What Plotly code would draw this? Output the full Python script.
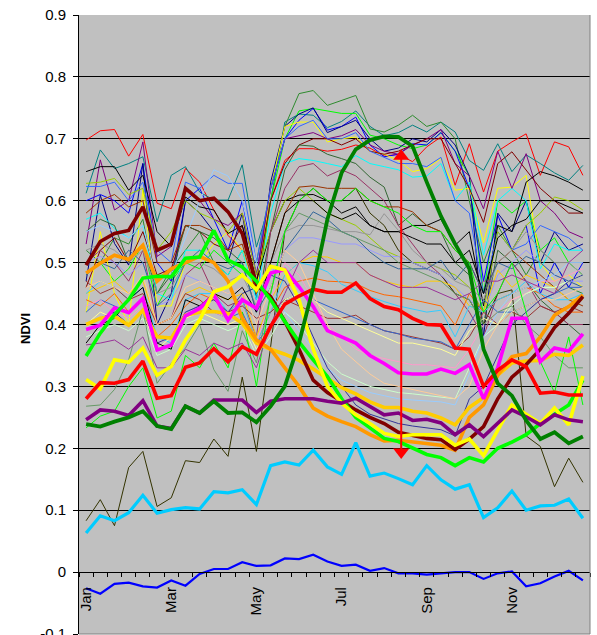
import plotly.graph_objects as go

# ---------------- data ----------------
dekads = list(range(36))
month_ticks = [0, 6, 12, 18, 24, 30]
month_labels = ["Jan", "Mar", "May", "Jul", "Sep", "Nov"]
y_ticks = [-0.1, 0, 0.1, 0.2, 0.3, 0.4, 0.5, 0.6, 0.7, 0.8, 0.9]
y_tick_labels = ["-0.1", "0", "0.1", "0.2", "0.3", "0.4", "0.5", "0.6", "0.7", "0.8", "0.9"]

# thin series
red_thin = [0.698,0.713,0.715,0.672,0.707,0.596, 0.587,0.652,0.630,0.585,0.544,0.520,
            0.450,0.600,0.665,0.684,0.684,0.680, 0.683,0.690,0.685,0.672,0.675,0.663,
            0.687,0.703,0.625,0.692,0.614,0.680, 0.695,0.708,0.641,0.695,0.687,0.641]
teal_thin = [0.612,0.682,0.652,0.660,0.671,0.566, 0.641,0.655,0.614,0.601,0.601,0.658,
             0.525,0.600,0.727,0.740,0.738,0.718, 0.728,0.745,0.720,0.705,0.710,0.722,
             0.711,0.727,0.711,0.665,0.649,0.692, 0.647,0.674,0.660,0.645,0.633,0.657]
forest_thin = [0.520,0.500,0.540,0.530,0.570,0.450, 0.490,0.520,0.550,0.500,0.480,0.520,
               0.500,0.620,0.720,0.773,0.778,0.754, 0.762,0.770,0.716,0.711,0.722,0.738,
               0.720,0.727,0.700,0.600,0.500,0.560, 0.520,0.480,0.520,0.500,0.460,0.450]
lime_thin_a = [0.480,0.500,0.470,0.490,0.530,0.430, 0.470,0.500,0.490,0.520,0.500,0.480,
               0.450,0.600,0.700,0.745,0.749,0.745, 0.741,0.741,0.706,0.700,0.690,0.684,
               0.690,0.710,0.680,0.640,0.450,0.600, 0.580,0.600,0.520,0.540,0.500,0.480]
blue_thin = [0.600,0.610,0.600,0.580,0.660,0.500, 0.470,0.600,0.620,0.570,0.520,0.600,
             0.480,0.620,0.700,0.730,0.749,0.714, 0.720,0.735,0.690,0.671,0.675,0.692,
             0.690,0.710,0.680,0.620,0.470,0.577, 0.520,0.560,0.450,0.500,0.460,0.500]
navy_thin = [0.470,0.609,0.531,0.496,0.660,0.400, 0.450,0.600,0.580,0.550,0.500,0.580,
             0.440,0.630,0.720,0.740,0.750,0.710, 0.720,0.730,0.700,0.680,0.685,0.700,
             0.695,0.715,0.690,0.640,0.380,0.580, 0.550,0.600,0.500,0.550,0.520,0.530]
yellow_thin = [0.420,0.550,0.450,0.400,0.617,0.430, 0.430,0.500,0.500,0.530,0.550,0.520,
               0.450,0.620,0.720,0.727,0.727,0.695, 0.700,0.703,0.680,0.675,0.665,0.647,
               0.652,0.668,0.617,0.620,0.532,0.620, 0.622,0.641,0.500,0.470,0.480,0.460]
cyan_thin = [0.570,0.580,0.555,0.540,0.560,0.450, 0.440,0.520,0.520,0.500,0.480,0.520,
             0.440,0.580,0.660,0.668,0.665,0.660, 0.655,0.673,0.660,0.655,0.650,0.638,
             0.640,0.660,0.601,0.630,0.512,0.600, 0.620,0.600,0.490,0.530,0.520,0.520]
purple_thin = [0.530,0.666,0.585,0.600,0.695,0.510, 0.526,0.620,0.600,0.570,0.560,0.580,
               0.480,0.620,0.700,0.705,0.710,0.700, 0.705,0.715,0.690,0.680,0.675,0.690,
               0.700,0.715,0.660,0.640,0.587,0.680, 0.620,0.676,0.600,0.580,0.550,0.540]
maroon_thin = [0.460,0.520,0.540,0.500,0.550,0.480, 0.490,0.560,0.550,0.530,0.520,0.560,
               0.470,0.600,0.660,0.690,0.700,0.700, 0.690,0.700,0.680,0.675,0.680,0.690,
               0.700,0.700,0.660,0.620,0.565,0.660, 0.679,0.650,0.620,0.600,0.580,0.580]
black_thin = [0.647,0.655,0.655,0.617,0.641,0.550, 0.526,0.606,0.590,0.585,0.547,0.560,
              0.470,0.550,0.600,0.609,0.610,0.600, 0.580,0.590,0.560,0.550,0.550,0.560,
              0.560,0.570,0.528,0.550,0.430,0.560, 0.550,0.630,0.647,0.640,0.630,0.617]
royal_thin = [0.623,0.623,0.630,0.600,0.630,0.520, 0.500,0.630,0.620,0.641,0.628,0.628,
              0.500,0.620,0.700,0.720,0.730,0.700, 0.700,0.710,0.680,0.670,0.660,0.660,
              0.655,0.670,0.600,0.580,0.450,0.550, 0.520,0.530,0.560,0.550,0.540,0.520]
ygreen_thin = [0.628,0.630,0.636,0.610,0.620,0.520, 0.550,0.600,0.580,0.570,0.550,0.580,
               0.480,0.550,0.600,0.620,0.600,0.580, 0.570,0.560,0.540,0.520,0.510,0.500,
               0.500,0.490,0.480,0.460,0.420,0.550, 0.520,0.560,0.580,0.606,0.600,0.585]
dkgreen_thin = [0.550,0.570,0.560,0.500,0.530,0.450, 0.480,0.560,0.550,0.540,0.520,0.500,
                0.420,0.550,0.650,0.690,0.688,0.675, 0.668,0.660,0.638,0.622,0.560,0.579,
                0.560,0.550,0.500,0.480,0.400,0.520, 0.500,0.470,0.440,0.420,0.400,0.380]
plum_thin = [0.500,0.520,0.500,0.470,0.520,0.400, 0.410,0.480,0.500,0.450,0.430,0.440,
             0.380,0.550,0.620,0.655,0.660,0.640, 0.650,0.640,0.620,0.600,0.560,0.530,
             0.500,0.480,0.450,0.420,0.380,0.450, 0.500,0.470,0.430,0.420,0.400,0.400]
olive_thin = [0.083,0.117,0.075,0.169,0.195,0.106, 0.120,0.180,0.177,0.215,0.187,0.315,
              0.195,0.364,0.550,0.600,0.620,0.600, 0.600,0.620,0.580,0.560,0.520,0.500,
              0.490,0.480,0.450,0.440,0.400,0.450, 0.456,0.220,0.203,0.138,0.184,0.145]
brown_thin = [0.580,0.600,0.610,0.590,0.600,0.500, 0.500,0.560,0.560,0.550,0.520,0.530,
              0.450,0.500,0.580,0.622,0.624,0.620, 0.620,0.620,0.600,0.590,0.590,0.582,
              0.560,0.550,0.520,0.500,0.450,0.500, 0.520,0.500,0.480,0.460,0.440,0.430]
gray_thin = [0.520,0.530,0.520,0.500,0.520,0.450, 0.460,0.500,0.500,0.490,0.470,0.480,
             0.430,0.500,0.550,0.560,0.560,0.555, 0.550,0.550,0.545,0.579,0.552,0.520,
             0.500,0.490,0.470,0.460,0.440,0.500, 0.520,0.550,0.520,0.500,0.500,0.480]
lavender_thin = [0.500,0.510,0.500,0.480,0.500,0.430, 0.440,0.480,0.470,0.460,0.450,0.460,
                 0.420,0.480,0.520,0.540,0.540,0.535, 0.530,0.530,0.520,0.510,0.510,0.500,
                 0.490,0.480,0.460,0.440,0.420,0.480, 0.500,0.520,0.500,0.480,0.470,0.470]
slate_thin = [0.480,0.500,0.490,0.520,0.500,0.430, 0.450,0.500,0.520,0.500,0.490,0.500,
              0.420,0.460,0.520,0.550,0.582,0.570, 0.550,0.540,0.517,0.500,0.490,0.490,
              0.490,0.504,0.472,0.500,0.450,0.500, 0.490,0.510,0.500,0.480,0.470,0.460]
gold_thin = [0.450,0.460,0.470,0.450,0.470,0.400, 0.410,0.450,0.460,0.450,0.440,0.450,
             0.380,0.440,0.480,0.500,0.510,0.509, 0.500,0.500,0.480,0.470,0.464,0.460,
             0.470,0.470,0.460,0.430,0.420,0.488, 0.460,0.480,0.470,0.460,0.440,0.440]
orange_thin = [0.440,0.430,0.450,0.420,0.440,0.380, 0.400,0.430,0.450,0.440,0.420,0.440,
               0.370,0.420,0.460,0.470,0.475,0.470, 0.469,0.466,0.455,0.448,0.445,0.440,
               0.434,0.430,0.399,0.450,0.420,0.440, 0.450,0.460,0.450,0.430,0.420,0.420]
sky_thin = [0.450,0.470,0.460,0.440,0.460,0.380, 0.370,0.440,0.450,0.450,0.420,0.440,
            0.370,0.420,0.480,0.500,0.495,0.485, 0.465,0.455,0.445,0.437,0.430,0.425,
            0.420,0.423,0.380,0.430,0.420,0.440, 0.450,0.470,0.450,0.440,0.440,0.450]
brownred_thin = [0.470,0.450,0.460,0.440,0.450,0.400, 0.410,0.450,0.440,0.420,0.420,0.430,
                 0.410,0.420,0.440,0.430,0.420,0.410, 0.410,0.415,0.400,0.390,0.385,0.380,
                 0.375,0.370,0.360,0.380,0.420,0.400, 0.420,0.410,0.430,0.420,0.430,0.420]
blue2_thin = [0.420,0.440,0.430,0.420,0.440,0.380, 0.380,0.420,0.430,0.420,0.410,0.420,
              0.370,0.400,0.440,0.450,0.440,0.430, 0.420,0.410,0.400,0.390,0.385,0.378,
              0.375,0.372,0.360,0.400,0.440,0.420, 0.420,0.430,0.440,0.450,0.460,0.460]
paleyellow_thin = [0.400,0.420,0.410,0.400,0.420,0.360, 0.380,0.410,0.420,0.410,0.400,0.410,
                   0.360,0.400,0.440,0.450,0.440,0.420, 0.410,0.400,0.390,0.380,0.370,0.370,
                   0.365,0.360,0.350,0.390,0.410,0.400, 0.440,0.450,0.460,0.460,0.470,0.480]
pink_thin = [0.430,0.440,0.420,0.410,0.430,0.370, 0.380,0.420,0.430,0.420,0.410,0.410,
             0.370,0.440,0.500,0.480,0.440,0.400, 0.380,0.360,0.350,0.345,0.340,0.335,
             0.335,0.333,0.330,0.360,0.400,0.420, 0.440,0.450,0.470,0.470,0.480,0.490]
palegreen_thin = [0.380,0.390,0.400,0.390,0.410,0.350, 0.360,0.400,0.410,0.400,0.390,0.400,
                  0.350,0.380,0.420,0.400,0.370,0.340, 0.320,0.310,0.300,0.295,0.290,0.288,
                  0.285,0.283,0.280,0.330,0.380,0.400, 0.430,0.450,0.460,0.460,0.470,0.480]
paleblue_thin = [0.550,0.560,0.550,0.540,0.560,0.470, 0.480,0.540,0.600,0.650,0.640,0.600,
                 0.500,0.450,0.420,0.390,0.360,0.330, 0.310,0.300,0.290,0.285,0.280,0.278,
                 0.276,0.275,0.270,0.320,0.380,0.420, 0.450,0.460,0.470,0.480,0.500,0.500]
tan_thin = [0.460,0.470,0.460,0.450,0.480,0.400, 0.410,0.460,0.470,0.460,0.450,0.460,
            0.400,0.460,0.520,0.500,0.450,0.400, 0.360,0.340,0.320,0.305,0.300,0.295,
            0.290,0.285,0.280,0.300,0.360,0.400, 0.420,0.430,0.440,0.440,0.450,0.460]
indigo_thin = [0.400,0.410,0.420,0.400,0.420,0.370, 0.380,0.420,0.430,0.440,0.420,0.450,
               0.460,0.480,0.470,0.430,0.380,0.330, 0.300,0.270,0.255,0.248,0.240,0.236,
               0.233,0.230,0.220,0.280,0.300,0.350, 0.400,0.420,0.440,0.450,0.470,0.480]
graygreen_thin = [0.268,0.270,0.295,0.343,0.424,0.305, 0.337,0.362,0.400,0.327,0.292,0.390,
                  0.338,0.450,0.550,0.580,0.570,0.560, 0.550,0.540,0.530,0.520,0.500,0.490,
                  0.480,0.470,0.450,0.440,0.400,0.420, 0.430,0.400,0.380,0.350,0.330,0.330]
lime_thin_b = [0.233,0.252,0.260,0.300,0.330,0.249, 0.260,0.350,0.330,0.370,0.330,0.420,
               0.300,0.450,0.550,0.600,0.620,0.600, 0.600,0.620,0.600,0.590,0.580,0.560,
               0.550,0.550,0.520,0.500,0.420,0.450, 0.500,0.420,0.340,0.290,0.380,0.270]
purple_thin_b = [0.367,0.370,0.375,0.360,0.380,0.330, 0.330,0.360,0.350,0.370,0.360,0.370,
                 0.330,0.400,0.450,0.500,0.520,0.500, 0.500,0.500,0.480,0.470,0.460,0.460,
                 0.460,0.450,0.440,0.450,0.470,0.470, 0.480,0.470,0.460,0.450,0.500,0.520]
black_thin_b = [0.370,0.400,0.410,0.440,0.460,0.370, 0.360,0.440,0.430,0.450,0.440,0.460,
                0.420,0.500,0.580,0.600,0.600,0.580, 0.570,0.580,0.560,0.550,0.550,0.540,
                0.530,0.530,0.500,0.520,0.450,0.540, 0.560,0.570,0.600,0.600,0.590,0.580]

# thick series
maroon_thick = [0.496,0.534,0.547,0.552,0.590,0.520, 0.530,0.620,0.600,0.604,0.582,0.547,
                0.464,0.445,0.405,0.360,0.310,0.290, 0.276,0.262,0.250,0.240,0.226,0.221,
                0.216,0.214,0.198,0.215,0.235,0.280, 0.315,0.335,0.360,0.395,0.418,0.445]
orange_thick = [0.483,0.499,0.512,0.505,0.528,0.470, 0.490,0.500,0.510,0.500,0.470,0.410,
                0.375,0.360,0.330,0.300,0.265,0.252, 0.243,0.235,0.222,0.212,0.213,0.210,
                0.208,0.205,0.197,0.250,0.270,0.318, 0.348,0.353,0.380,0.415,0.429,0.448]
gold_thick = [0.400,0.410,0.413,0.399,0.423,0.380, 0.378,0.415,0.420,0.421,0.418,0.402,
              0.370,0.360,0.352,0.342,0.328,0.313, 0.298,0.288,0.275,0.266,0.266,0.260,
              0.257,0.249,0.238,0.266,0.282,0.318, 0.338,0.341,0.342,0.352,0.350,0.367]
magenta_thick = [0.392,0.399,0.427,0.419,0.442,0.359, 0.367,0.414,0.426,0.448,0.407,0.440,
                 0.426,0.483,0.489,0.461,0.429,0.390, 0.380,0.370,0.350,0.337,0.322,0.320,
                 0.320,0.328,0.321,0.335,0.280,0.330, 0.410,0.410,0.340,0.362,0.357,0.385]
lime_thick = [0.349,0.386,0.416,0.440,0.475,0.478, 0.477,0.507,0.509,0.552,0.504,0.493,
              0.470,0.440,0.405,0.372,0.343,0.316, 0.280,0.250,0.233,0.216,0.211,0.200,
              0.190,0.185,0.172,0.185,0.178,0.200, 0.210,0.222,0.240,0.255,0.270,0.310]
yellow_thick = [0.311,0.296,0.343,0.339,0.362,0.318, 0.332,0.375,0.407,0.453,0.461,0.480,
                0.456,0.494,0.488,0.440,0.360,0.300, 0.273,0.254,0.240,0.224,0.219,0.222,
                0.222,0.222,0.205,0.215,0.188,0.230, 0.270,0.255,0.240,0.265,0.238,0.317]
red_thick = [0.280,0.306,0.305,0.311,0.341,0.281, 0.285,0.331,0.338,0.361,0.340,0.364,
             0.352,0.397,0.433,0.446,0.457,0.452, 0.452,0.467,0.442,0.429,0.424,0.410,
             0.400,0.399,0.362,0.360,0.300,0.326, 0.343,0.332,0.289,0.291,0.286,0.286]
purple_thick = [0.246,0.262,0.260,0.253,0.277,0.236, 0.232,0.268,0.257,0.278,0.278,0.278,
                0.258,0.276,0.280,0.280,0.280,0.276, 0.273,0.281,0.267,0.254,0.257,0.245,
                0.247,0.241,0.222,0.238,0.219,0.241, 0.262,0.251,0.238,0.254,0.246,0.243]
green_thick = [0.239,0.235,0.243,0.250,0.260,0.236, 0.231,0.268,0.257,0.276,0.257,0.258,
               0.242,0.268,0.300,0.370,0.460,0.570, 0.645,0.683,0.698,0.704,0.703,0.688,
               0.630,0.575,0.530,0.490,0.360,0.305, 0.285,0.245,0.215,0.226,0.208,0.219]
sky_thick = [0.063,0.091,0.083,0.096,0.124,0.095, 0.101,0.104,0.102,0.130,0.128,0.133,
             0.109,0.172,0.178,0.173,0.197,0.170, 0.158,0.209,0.155,0.160,0.151,0.141,
             0.172,0.149,0.134,0.141,0.088,0.104, 0.131,0.100,0.107,0.108,0.118,0.087]
blue_low = [-0.026,-0.035,-0.019,-0.017,-0.023,-0.025, -0.0135,-0.022,-0.003,0.005,0.005,0.016,
            0.010,0.011,0.022,0.021,0.028,0.017, 0.010,0.012,0.002,0.0065,-0.002,-0.002,
            -0.004,-0.002,0.000,0.000,-0.011,-0.002, 0.001,-0.023,-0.018,-0.007,0.002,-0.0135]

# red double arrow (position between dekads, value range)
arrow_x = 22.2
arrow_y = [0.194, 0.672]

# ---------------- styling ----------------
thin_styles = [
    (red_thin, "#FF0000"), (teal_thin, "#008080"), (forest_thin, "#2E8B2E"),
    (lime_thin_a, "#00FF00"), (blue_thin, "#0000FF"), (navy_thin, "#000080"),
    (yellow_thin, "#FFFF00"), (cyan_thin, "#00FFFF"), (purple_thin, "#800080"),
    (maroon_thin, "#800000"), (black_thin, "#000000"), (royal_thin, "#3366FF"),
    (ygreen_thin, "#99CC00"), (dkgreen_thin, "#336633"), (plum_thin, "#993366"),
    (olive_thin, "#333300"), (brown_thin, "#993300"), (gray_thin, "#969696"),
    (lavender_thin, "#9999FF"), (slate_thin, "#336699"), (gold_thin, "#FFCC00"),
    (orange_thin, "#FF6600"), (sky_thin, "#33CCFF"), (brownred_thin, "#993333"),
    (blue2_thin, "#3366CC"), (paleyellow_thin, "#FFFF99"), (pink_thin, "#FF99CC"),
    (palegreen_thin, "#CCFFCC"), (paleblue_thin, "#99CCFF"), (tan_thin, "#FFCC99"),
    (indigo_thin, "#333399"), (graygreen_thin, "#669966"), (lime_thin_b, "#00FF00"),
    (purple_thin_b, "#993399"), (black_thin_b, "#000000"),
]
thick_styles = [
    (blue_low, "#0000FF", 2.2), (sky_thick, "#00CCFF", 3.2),
    (gold_thick, "#FFCC00", 3.6), (orange_thick, "#FF9900", 3.6),
    (maroon_thick, "#800000", 3.6), (magenta_thick, "#FF00FF", 3.6),
    (lime_thick, "#00FF00", 3.6), (yellow_thick, "#FFFF00", 3.6),
    (red_thick, "#FF0000", 3.6), (purple_thick, "#800080", 3.6),
    (green_thick, "#008000", 3.8),
]

fig = go.Figure()
for vals, col in thin_styles:
    fig.add_trace(go.Scatter(x=dekads, y=vals, mode="lines",
                             line=dict(color=col, width=1), hoverinfo="skip"))
for vals, col, w in thick_styles:
    fig.add_trace(go.Scatter(x=dekads, y=vals, mode="lines",
                             line=dict(color=col, width=w), hoverinfo="skip"))

# arrow
fig.add_trace(go.Scatter(x=[arrow_x, arrow_x], y=arrow_y, mode="lines",
                         line=dict(color="#FF0000", width=2), hoverinfo="skip"))
fig.add_trace(go.Scatter(x=[arrow_x, arrow_x], y=arrow_y, mode="markers",
                         marker=dict(symbol=["triangle-down", "triangle-up"],
                                     size=14, color="#FF0000", line=dict(width=0)),
                         hoverinfo="skip"))

fig.update_layout(
    width=597, height=635,
    margin=dict(l=79, r=7, t=15, b=1),
    paper_bgcolor="white", plot_bgcolor="#C0C0C0",
    showlegend=False,
    font=dict(family="Liberation Sans, Arial, sans-serif", size=15, color="black"),
    xaxis=dict(range=[-0.5, 35.5], anchor="free", position=0.1,
               tickmode="array", tickvals=month_ticks, ticktext=month_labels,
               tickangle=-90, ticks="", showgrid=False, zeroline=False,
               showline=True, linecolor="black", linewidth=1,
               ticklabelstandoff=8, automargin=False,
               minor=dict(tickmode="linear", tick0=-0.5, dtick=1, ticks="outside",
                          ticklen=4, tickcolor="black", showgrid=False)),
    yaxis=dict(range=[-0.1, 0.9], tickmode="array", tickvals=y_ticks, ticktext=y_tick_labels,
               showgrid=True, gridcolor="black", gridwidth=1, zeroline=False,
               showline=True, linecolor="black", linewidth=1,
               ticks="outside", ticklen=5, tickcolor="black",
               ticklabelstandoff=4, automargin=False, ticklabeloverflow="allow"),
    shapes=[dict(type="line", xref="paper", yref="paper", x0=1, x1=1, y0=0, y1=1,
                 line=dict(color="#808080", width=1)),
            dict(type="line", xref="paper", yref="paper", x0=0, x1=1, y0=0, y1=0,
                 line=dict(color="#808080", width=1))],
    annotations=[dict(text="<b>NDVI</b>", xref="paper", yref="paper",
                      x=(25 - 79) / 511, y=(634 - 329) / 619, showarrow=False,
                      textangle=-90, font=dict(size=13),
                      xanchor="center", yanchor="middle")],
)

fig.write_html("out.html")
